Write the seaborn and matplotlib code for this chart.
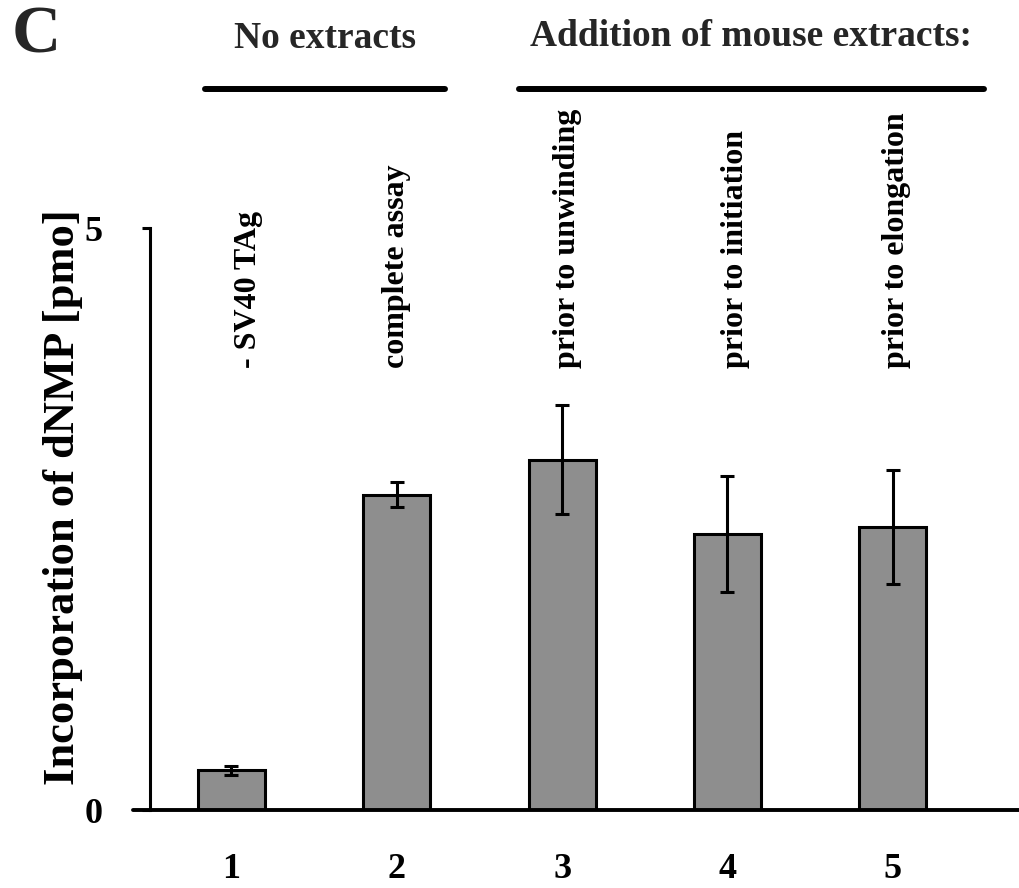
import matplotlib
matplotlib.use("Agg")
import matplotlib.pyplot as plt
from matplotlib.lines import Line2D
import seaborn as sns
import pandas as pd

# ---- data ----
lanes = ["1", "2", "3", "4", "5"]
conditions = ["- SV40 TAg", "complete assay", "prior to unwinding",
              "prior to initiation", "prior to elongation"]
incorporation = [0.34, 2.71, 3.01, 2.37, 2.43]
errors = [0.04, 0.11, 0.47, 0.50, 0.49]
y_ticks = [0, 5]
group_titles = ["No extracts", "Addition of mouse extracts:"]
panel_letter = "C"

sns.set_theme(style="white")
plt.rcParams["font.family"] = ["Liberation Serif", "DejaVu Serif"]
plt.rcParams["font.weight"] = "bold"

W, H = 1019, 888
fig = plt.figure(figsize=(W / 100, H / 100), dpi=100)


def fx(px):
    return px / W


def fy(py):
    return 1 - py / H


ax = fig.add_axes([fx(150), fy(810), fx(1019) - fx(150), fy(228) - fy(810)])

df = pd.DataFrame({"lane": lanes, "value": incorporation})
sns.barplot(data=df, x="lane", y="value", color="#8e8e8e", edgecolor="black",
            linewidth=2.2, width=0.405, errorbar=None, saturation=1, ax=ax)

xpos = ax.get_xticks()
ax.errorbar(xpos, incorporation, yerr=errors, fmt="none", ecolor="black",
            elinewidth=2.2, capsize=5, capthick=2.2, zorder=3)

ax.set_xlim(-0.493, 4.764)
ax.set_ylim(0, 5)
ax.set_yticks(y_ticks)
ax.set_yticklabels([str(t) for t in y_ticks], fontsize=26, fontweight="bold")
ax.tick_params(axis="y", direction="out", length=6, width=2.2, pad=28, colors="black", left=True)
ax.tick_params(axis="x", length=0, pad=31, labelsize=26, colors="black")
for lab in ax.get_xticklabels():
    lab.set_fontweight("bold")

for s in ["top", "right", "bottom"]:
    ax.spines[s].set_visible(False)
ax.spines["left"].set_linewidth(2.2)
ax.spines["left"].set_color("black")

ax.set_xlabel("")
ax.set_ylabel("Incorporation of dNMP [pmo]", fontsize=32, fontweight="bold", color="black")
ax.yaxis.label.set_va("center")
ax.yaxis.set_label_coords((63 - 150) / 869, (810 - 497) / 582)

# condition labels (rotated)
label_shift = [0.10, 0.0, 0.03, 0.05, 0.02]
for x, txt, sh in zip(xpos, conditions, label_shift):
    ax.text(x + sh, 3.8, txt, rotation=90, ha="center", va="bottom",
            fontsize=23, fontweight="bold", color="black")

# extended x-axis baseline
fig.add_artist(Line2D([fx(133), fx(1019)], [fy(810), fy(810)], color="black", linewidth=2.8))

# group header lines and titles
fig.add_artist(Line2D([fx(205), fx(445)], [fy(89), fy(89)], color="black", linewidth=4.3))
fig.add_artist(Line2D([fx(519), fx(984)], [fy(89), fy(89)], color="black", linewidth=4.3))
fig.text(fx(325), fy(38), group_titles[0], ha="center", va="center", fontsize=27, fontweight="bold")
fig.text(fx(751), fy(37), group_titles[1], ha="center", va="center", fontsize=27, fontweight="bold")
fig.text(fx(36), fy(36), panel_letter, ha="center", va="center", fontsize=49, fontweight="bold")

fig.savefig("out.png", dpi=100)
